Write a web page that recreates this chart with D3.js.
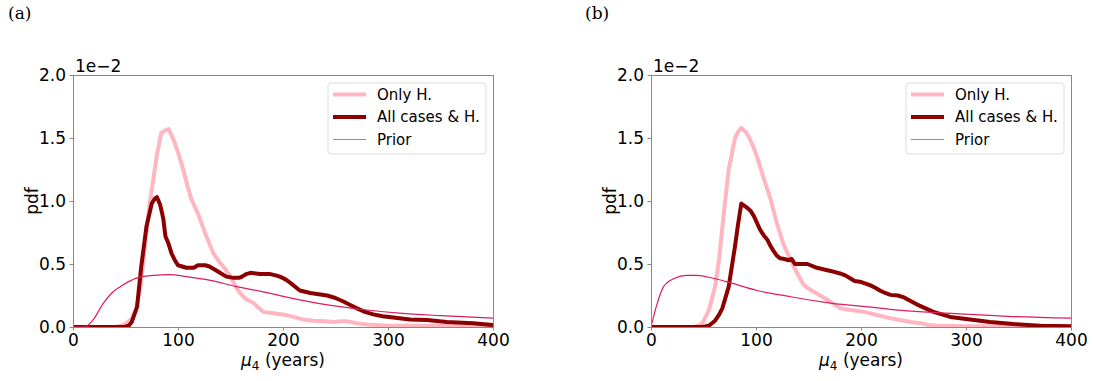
<!DOCTYPE html>
<html>
<head>
<meta charset="utf-8">
<script src="https://cdn.jsdelivr.net/npm/d3@7"></script>
<style>
  body { margin: 0; background: #fff; }
  svg { display: block; }
  text { font-family: 'DejaVu Sans', sans-serif; fill: #000; }
</style>
</head>
<body>
<svg id="chart" width="1093" height="381"></svg>
<script>
// values in units of 1e-2
const xTicks = [0, 100, 200, 300, 400];
const yTicks = [0, 0.5, 1.0, 1.5, 2.0];
const legendLabels = ['Only H.', 'All cases & H.', 'Prior'];
const panelLabels = ['(a)', '(b)'];

// panel (a)
const onlyH_a_x = [0, 40, 46, 51, 56, 60, 64, 68, 73, 77, 80, 84, 88, 91, 94, 97, 101, 105, 109, 113, 119, 127, 134, 140, 145, 150, 155, 159, 165, 172, 177, 181, 191, 200, 210, 219, 229, 240, 248, 256, 262, 270, 280, 300, 340, 400];
const onlyH_a_y = [0, 0, 0.01, 0.03, 0.07, 0.14, 0.30, 0.60, 0.98, 1.20, 1.37, 1.54, 1.56, 1.57, 1.52, 1.46, 1.36, 1.25, 1.12, 1.01, 0.90, 0.72, 0.58, 0.51, 0.46, 0.40, 0.32, 0.27, 0.22, 0.19, 0.15, 0.12, 0.11, 0.10, 0.08, 0.06, 0.05, 0.045, 0.04, 0.045, 0.045, 0.03, 0.02, 0.01, 0.01, 0.005];
const allH_a_x = [0, 49, 53, 56, 61, 65, 70, 75, 78, 80, 83, 86, 88, 91, 94, 97, 100, 104, 108, 115, 119, 122, 126, 130, 138, 146, 153, 158, 161, 165, 169, 178, 188, 193, 197, 202, 207, 216, 226, 242, 250, 258, 264, 270, 278, 286, 295, 305, 321, 337, 356, 381, 400];
const allH_a_y = [0, 0, 0.01, 0.04, 0.16, 0.48, 0.80, 0.98, 1.02, 1.03, 0.97, 0.86, 0.72, 0.66, 0.58, 0.53, 0.49, 0.48, 0.47, 0.47, 0.49, 0.49, 0.49, 0.48, 0.44, 0.40, 0.39, 0.39, 0.40, 0.42, 0.43, 0.42, 0.42, 0.41, 0.40, 0.38, 0.35, 0.29, 0.27, 0.25, 0.23, 0.20, 0.175, 0.15, 0.12, 0.10, 0.085, 0.075, 0.06, 0.055, 0.04, 0.03, 0.015];
const prior_a_x = [0, 11, 19, 29, 37, 45, 53, 61, 77, 92, 108, 131, 156, 178, 210, 235, 280, 311, 350, 400];
const prior_a_y = [0, 0, 0.055, 0.19, 0.27, 0.32, 0.36, 0.39, 0.41, 0.415, 0.40, 0.37, 0.32, 0.285, 0.225, 0.185, 0.135, 0.11, 0.09, 0.07];

// panel (b)
const onlyH_b_x = [0, 41, 45, 49, 55, 61, 65, 68, 74, 80, 83, 86, 90, 93, 97, 101, 107, 114, 120, 126, 133, 139, 145, 149, 153, 161, 171, 180, 185, 190, 203, 215, 228, 237, 247, 257, 265, 272, 300, 400];
const onlyH_b_y = [0, 0, 0.01, 0.03, 0.13, 0.32, 0.55, 0.80, 1.25, 1.50, 1.55, 1.58, 1.55, 1.51, 1.44, 1.35, 1.19, 1.01, 0.82, 0.66, 0.53, 0.43, 0.34, 0.31, 0.29, 0.25, 0.20, 0.15, 0.14, 0.135, 0.12, 0.095, 0.07, 0.055, 0.04, 0.03, 0.015, 0.01, 0.005, 0.003];
const allH_b_x = [0, 49, 55, 61, 65, 68, 74, 80, 83, 86, 91, 95, 98, 104, 108, 111, 114, 117, 120, 123, 127, 131, 134, 137, 149, 158, 171, 180, 185, 190, 194, 199, 209, 214, 218, 223, 228, 235, 241, 253, 269, 285, 304, 323, 345, 371, 400];
const allH_b_y = [0, 0, 0.01, 0.05, 0.10, 0.15, 0.32, 0.64, 0.82, 0.98, 0.95, 0.92, 0.88, 0.77, 0.72, 0.69, 0.64, 0.60, 0.565, 0.545, 0.54, 0.53, 0.54, 0.50, 0.50, 0.47, 0.445, 0.425, 0.41, 0.385, 0.365, 0.36, 0.33, 0.31, 0.29, 0.27, 0.255, 0.25, 0.235, 0.18, 0.12, 0.08, 0.06, 0.04, 0.024, 0.01, 0.005];
const prior_b_x = [0, 6, 12, 22, 34, 44, 60, 76, 101, 133, 171, 218, 228, 282, 340, 400];
const prior_b_y = [0, 0.19, 0.32, 0.385, 0.41, 0.41, 0.385, 0.35, 0.29, 0.24, 0.19, 0.15, 0.14, 0.11, 0.085, 0.07];

const zip = (xs, ys) => xs.map((x, i) => [x, ys[i]]);

const panels = [
    { left: 73, label: panelLabels[0], labelX: 8,
      series: [zip(onlyH_a_x, onlyH_a_y), zip(allH_a_x, allH_a_y), zip(prior_a_x, prior_a_y)] },
    { left: 651, label: panelLabels[1], labelX: 585,
      series: [zip(onlyH_b_x, onlyH_b_y), zip(allH_b_x, allH_b_y), zip(prior_b_x, prior_b_y)] }
];

const styles = [
    { color: '#ffb6c1', width: 4, curve: d3.curveLinear },
    { color: '#8b0000', width: 4, curve: d3.curveLinear },
    { color: '#dc1e5e', width: 1.2, curve: d3.curveMonotoneX }
];

const plotTop = 75, plotBottom = 327, plotW = 420;
const spine = '#888';
const svg = d3.select('#chart');

panels.forEach(p => {
    const x = d3.scaleLinear().domain([0, 400]).range([p.left, p.left + plotW]);
    const y = d3.scaleLinear().domain([0, 2]).range([plotBottom, plotTop]);

    // panel label
    svg.append('text')
        .attr('x', p.labelX).attr('y', 19)
        .style('font-family', "'DejaVu Serif', serif")
        .style('font-size', '17px')
        .text(p.label);

    const clipId = 'clip' + p.left;
    svg.append('clipPath').attr('id', clipId)
        .append('rect')
        .attr('x', p.left).attr('y', plotTop - 5)
        .attr('width', plotW).attr('height', plotBottom - plotTop + 5);

    // curves
    p.series.forEach((s, i) => {
        const line = d3.line()
            .curve(styles[i].curve)
            .x(d => x(d[0]))
            .y(d => y(d[1]));
        svg.append('path')
            .attr('clip-path', `url(#${clipId})`)
            .attr('fill', 'none')
            .attr('stroke', styles[i].color)
            .attr('stroke-width', styles[i].width)
            .attr('stroke-linejoin', 'round')
            .attr('d', line(s));
    });

    // axes
    const xAxis = svg.append('g')
        .attr('transform', `translate(0,${plotBottom})`)
        .call(d3.axisBottom(x).tickValues(xTicks).tickSize(3.5).tickPadding(3.5).tickSizeOuter(0));
    const yAxis = svg.append('g')
        .attr('transform', `translate(${p.left},0)`)
        .call(d3.axisLeft(y).tickValues(yTicks).tickFormat(d3.format('.1f')).tickSize(3.5).tickPadding(3.5).tickSizeOuter(0));

    [xAxis, yAxis].forEach(a => {
        a.select('.domain').remove();
        a.selectAll('.tick line').attr('stroke', spine);
        a.selectAll('.tick text')
            .style('font-family', "'DejaVu Sans', sans-serif")
            .style('font-size', '17px')
            .attr('fill', '#000');
    });

    // frame
    svg.append('rect')
        .attr('x', p.left + 0.5).attr('y', plotTop + 0.5)
        .attr('width', plotW).attr('height', plotBottom - plotTop)
        .attr('fill', 'none')
        .attr('stroke', spine)
        .attr('stroke-width', 1);

    // offset text
    svg.append('text')
        .attr('x', p.left + 2).attr('y', plotTop - 3)
        .style('font-size', '17px')
        .text('1e\u22122');

    // axis labels
    svg.append('text')
        .attr('transform', `translate(${p.left - 35},${(plotTop + plotBottom) / 2}) rotate(-90)`)
        .attr('text-anchor', 'middle')
        .style('font-size', '17px')
        .text('pdf');

    const xl = svg.append('text')
        .attr('x', p.left + plotW / 2).attr('y', 366)
        .attr('text-anchor', 'middle')
        .style('font-size', '17px');
    xl.append('tspan').style('font-style', 'italic').text('\u03bc');
    xl.append('tspan').attr('dy', 4).style('font-size', '12px').text('4');
    xl.append('tspan').attr('dy', -4).text(' (years)');

    // legend
    const lx = p.left + plotW - 7 - 158, ly = plotTop + 8;
    const lg = svg.append('g').attr('transform', `translate(${lx},${ly})`);
    lg.append('rect')
        .attr('width', 158).attr('height', 71)
        .attr('rx', 3)
        .attr('fill', 'rgba(255,255,255,0.8)')
        .attr('stroke', '#ddd');
    legendLabels.forEach((label, i) => {
        const ry = 11.5 + i * 22.5;
        lg.append('line')
            .attr('x1', 5).attr('x2', 38)
            .attr('y1', ry).attr('y2', ry)
            .attr('stroke', styles[i].color)
            .attr('stroke-opacity', i === 2 ? 0.7 : 1)
            .attr('stroke-width', styles[i].width);
        lg.append('text')
            .attr('x', 49).attr('y', ry)
            .attr('dy', '0.35em')
            .style('font-size', '15px')
            .text(label);
    });
});
</script>
</body>
</html>
